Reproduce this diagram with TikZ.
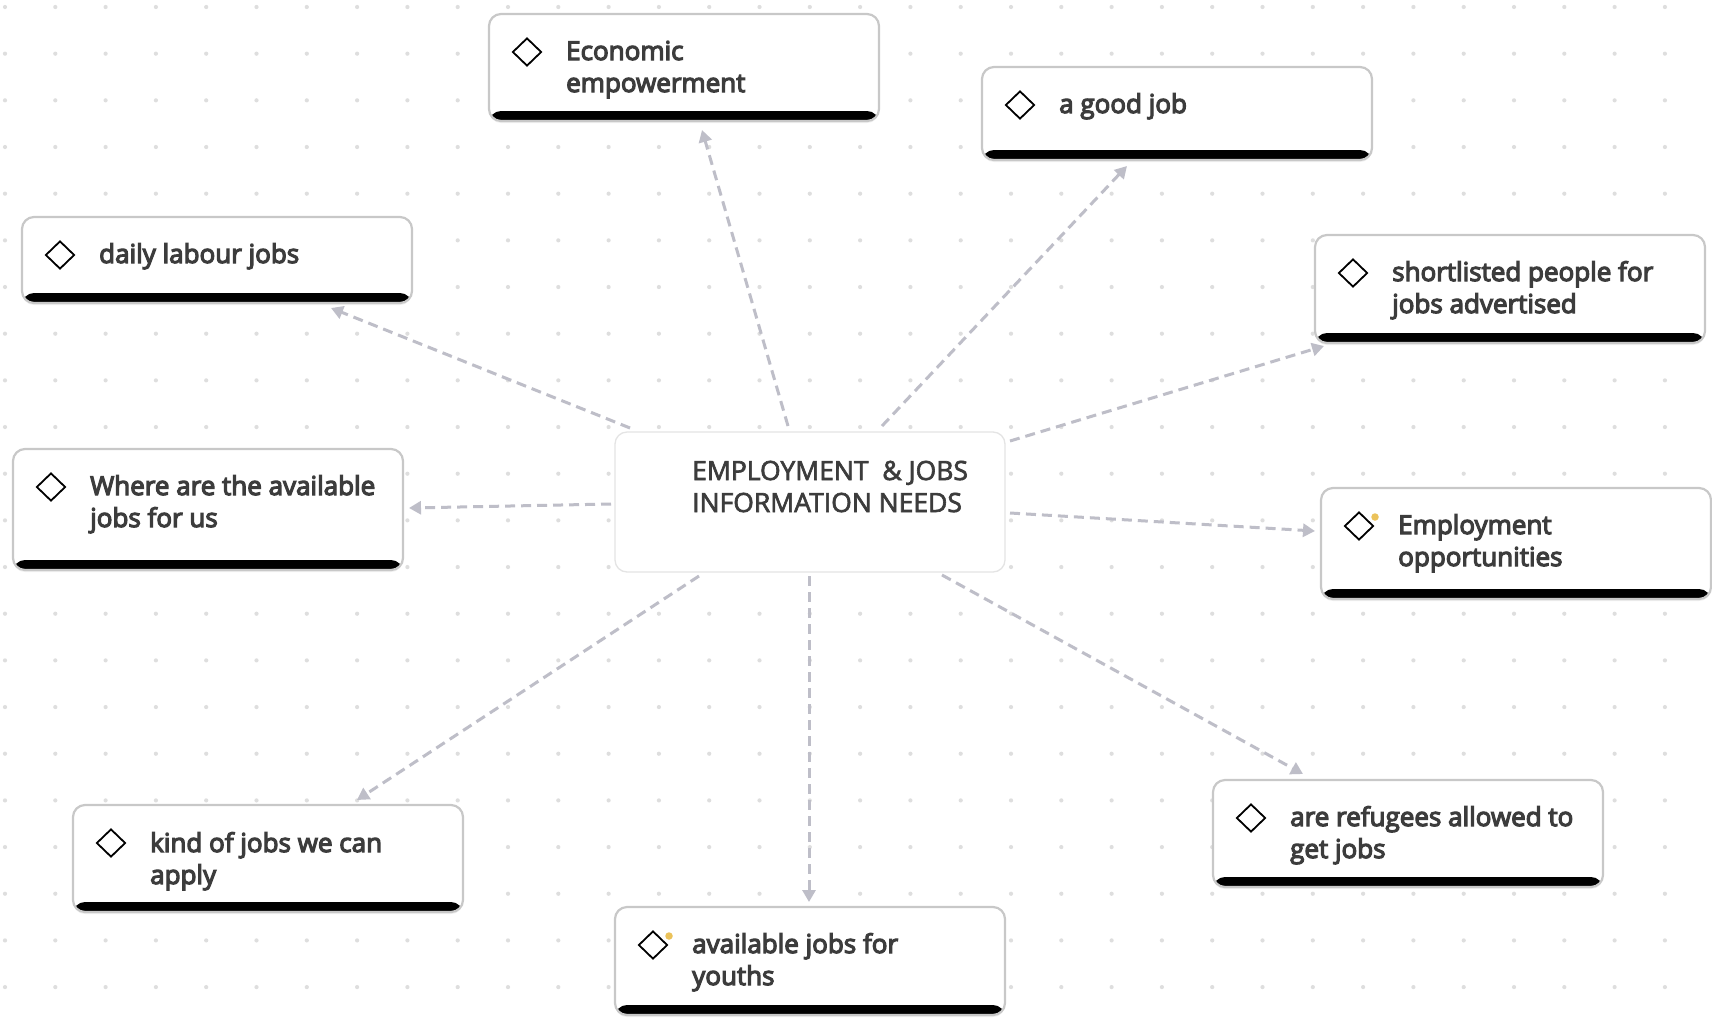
\documentclass[tikz,border=0pt]{standalone}
\usepackage{fontspec}
\setmainfont{Open Sans}
\newfontfamily\boxfont{Open Sans}[FakeBold=4.5]
\newfontfamily\hubfont{Open Sans}[FakeBold=2.5]
\usetikzlibrary{shapes.geometric,calc,arrows.meta,shadows}

\definecolor{txt}{HTML}{3C3C3C}
\definecolor{rim}{HTML}{C8C8C8}
\definecolor{hubrim}{HTML}{E4E4E4}
\definecolor{link}{HTML}{BEBEC8}
\definecolor{gridd}{HTML}{DEDEDE}
\definecolor{gold}{HTML}{EBC25A}

\tikzset{
  jbox/.style={draw=rim, line width=2.2pt, rounded corners=12pt, fill=white,
    minimum width=390pt, anchor=north west, inner sep=0pt, outer sep=0pt,
    drop shadow={shadow xshift=0pt, shadow yshift=-2pt, opacity=0.12},
    path picture={\fill[black] ($(path picture bounding box.south west)+(0,-10)$)
      rectangle (path picture bounding box.south east);}},
  hubbox/.style={draw=hubrim, line width=1.3pt, rounded corners=12pt, fill=white,
    minimum width=390pt, minimum height=140pt, anchor=north west,
    inner sep=0pt, outer sep=0pt},
  dia/.style={diamond, draw=black, line width=1.8pt, minimum width=29pt,
    minimum height=28pt, inner sep=0pt, fill=white},
  jtext/.style={anchor=base west, align=left, inner sep=0pt, text=txt,
    font=\boxfont\fontsize{26}{32}\selectfont},
  hubtext/.style={anchor=base west, align=left, inner sep=0pt, text=txt,
    font=\hubfont\fontsize{26.5}{32}\selectfont},
  ydot/.style={circle, fill=gold, inner sep=0pt, minimum size=7.5pt},
  conn/.style={draw=link, line width=3pt, dash pattern=on 10pt off 6pt,
    -{Triangle[length=12pt,width=13pt]}},
}

% #1 name, #2 left, #3 top, #4 height, #5 baseline of the last line, #6 label
\newcommand\jobbox[6]{%
  \node[jbox, minimum height=#4pt] (#1) at (#2,#3) {};
  \node[dia] (#1d) at ($(#1.north west)+(38,38)$) {};
  \node[jtext] (#1t) at ($(#1.north west)+(77,#5)$) {#6};
}

\begin{document}
\begin{tikzpicture}[x=1pt,y=-1pt]
  \useasboundingbox (0,0) rectangle (1712,1029);
  \fill[white] (0,0) rectangle (1712,1029);

  % dotted canvas
  \foreach \i in {0,...,34}
    \foreach \j in {0,...,22}
      \fill[gridd] ({5+50.3*\i},{7+46.67*\j}) circle (2.1pt);

  % central topic
  \node[hubbox] (hub) at (615,432) {};
  \node[hubtext] (hubt) at (692,512) {EMPLOYMENT \ \& JOBS\\INFORMATION NEEDS};

  % surrounding topics
  \jobbox{econ}{489}{14}{107}{78}{Economic\\empowerment}
  \jobbox{good}{982}{67}{93}{46}{a good job}
  \jobbox{daily}{22}{217}{86}{46}{daily labour jobs}
  \jobbox{short}{1315}{235}{108}{78}{shortlisted people for\\jobs advertised}
  \jobbox{where}{13}{449}{121}{78}{Where are the available\\jobs for us}
  \jobbox{emp}{1321}{488}{111}{78}{Employment\\opportunities}
  \jobbox{refu}{1213}{780}{107}{78}{are refugees allowed to\\get jobs}
  \jobbox{kind}{73}{805}{107}{79}{kind of jobs we can\\apply}
  \jobbox{youth}{615}{907}{108}{78}{available jobs for\\youths}

  \node[ydot] (empdot) at ($(empd.center)+(16,-9)$) {};
  \node[ydot] (youthdot) at ($(youthd.center)+(16,-9)$) {};

  % connectors
  \draw[conn] ($(hub.north west)+(173,-6)$) -- ($(econ.south west)+(213,9)$);
  \draw[conn] ($(hub.north west)+(267,-6)$) -- ($(good.south west)+(145,6)$);
  \draw[conn] ($(hub.north west)+(15,-4)$) -- ($(daily.south west)+(309,5)$);
  \draw[conn] ($(hub.north east)+(5,9)$) -- ($(short.south west)+(9,3)$);
  \draw[conn] ($(hub.north west)+(-4,72)$) -- ($(where.north east)+(6,59)$);
  \draw[conn] ($(hub.north east)+(5,81)$) -- ($(emp.north west)+(-6,43)$);
  \draw[conn] ($(hub.south west)+(327,3)$) -- ($(refu.north west)+(90,-6)$);
  \draw[conn] ($(hub.south west)+(194,4)$) -- ($(youth.north west)+(194,-5)$);
  \draw[conn] ($(hub.south west)+(84,4)$) -- ($(kind.north west)+(284,-5)$);
\end{tikzpicture}
\end{document}
